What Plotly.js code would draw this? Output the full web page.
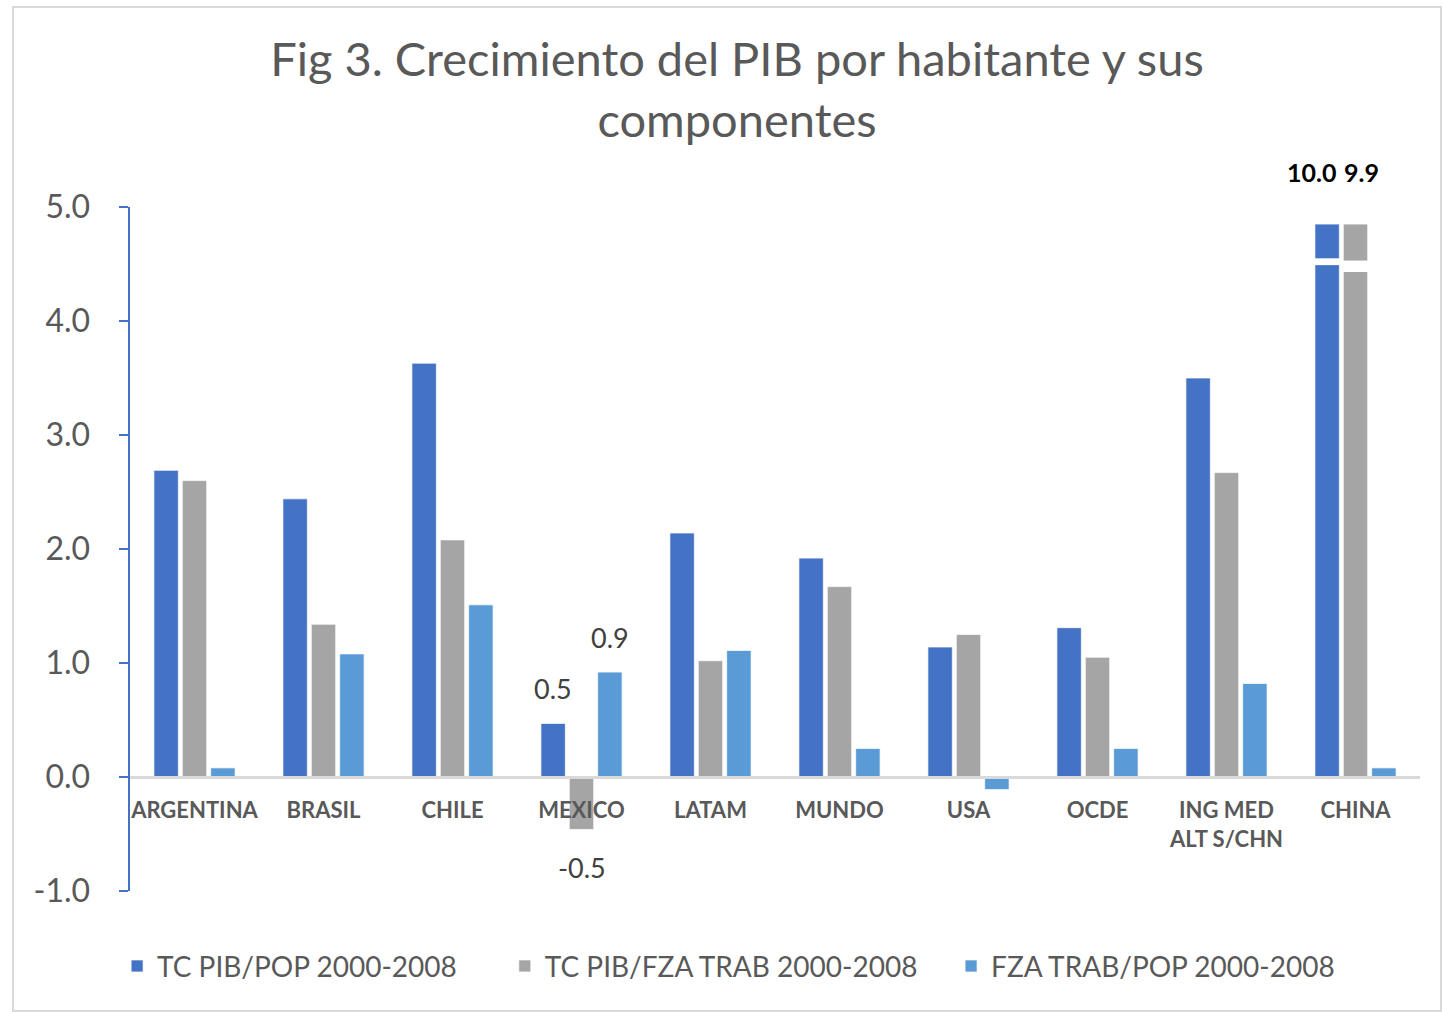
<!DOCTYPE html>
<html>
<head>
<meta charset="utf-8">
<script src="https://cdn.plot.ly/plotly-3.0.1.min.js"></script>
<style>
  body { margin: 0; background: #fff; }
  #chart { position: absolute; left: 12px; top: 6px; width: 1426px; height: 1002px; border: 2px solid #D9D9D9; }
</style>
</head>
<body>
<div id="chart"></div>
<script>
// Categories and the three series (growth rates, %)
const categories = ['ARGENTINA', 'BRASIL', 'CHILE', 'MEXICO', 'LATAM', 'MUNDO', 'USA', 'OCDE', 'ING MED<br>ALT S/CHN', 'CHINA'];
const pibPop = [2.69, 2.44, 3.63, 0.47, 2.14, 1.92, 1.14, 1.31, 3.50, 10.0];
const pibFza = [2.60, 1.34, 2.08, -0.46, 1.02, 1.67, 1.25, 1.05, 2.67, 9.9];
const fzaPop = [0.08, 1.08, 1.51, 0.92, 1.11, 0.25, -0.11, 0.25, 0.82, 0.08];

const seriesNames = ['TC PIB/POP 2000-2008', 'TC PIB/FZA TRAB 2000-2008', 'FZA TRAB/POP 2000-2008'];
const yTickVals = [-1, 0, 1, 2, 3, 4, 5];
const yTickText = ['-1.0', '0.0', '1.0', '2.0', '3.0', '4.0', '5.0'];

// Only this category carries data labels in the original
const labelledCategory = 'MEXICO';

const colors = ['#4472C4', '#A5A5A5', '#5B9BD5'];
const font = 'Lato, "Open Sans", sans-serif';
const axisMax = 5;
const capTop = 4.85;      // where truncated bars are drawn to
const bargap = 0.34;
const bargroupgap = 0.14;
const slot = (1 - bargap) / 3;
const legendPads = [6, 4, 0]; // extra room between legend entries

const series = [pibPop, pibFza, fzaPop];

// bars above the axis are capped and drawn with a break
const traces = series.map((vals, i) => ({
  type: 'bar',
  name: seriesNames[i] + '\u00a0'.repeat(legendPads[i]),
  x: categories,
  y: vals.map(v => v > axisMax ? capTop : v),
  marker: { color: colors[i], line: { color: 'rgba(255,255,255,0.7)', width: 1 } },
  hoverinfo: 'skip'
}));

const annotations = [];
const shapes = [];
const breakBands = [[4.49, 4.55], [4.43, 4.53], [4.49, 4.55]];

series.forEach((vals, i) => {
  vals.forEach((v, j) => {
    const cx = j + (i - 1) * slot;
    if (v > axisMax) {
      // value label above the chart for truncated bars
      annotations.push({
        x: cx, y: 1, xref: 'x', yref: 'paper', yanchor: 'bottom', yshift: 18,
        xshift: i === 0 ? -16 : 6,
        text: '<b>' + v.toFixed(1) + '</b>', showarrow: false,
        font: { family: font, size: 25, color: '#000' }
      });
      shapes.push({
        type: 'rect', xref: 'x', yref: 'y',
        x0: cx - slot / 2, x1: cx + slot / 2,
        y0: breakBands[i][0], y1: breakBands[i][1],
        fillcolor: '#fff', line: { width: 0 }, layer: 'above'
      });
    }
    if (categories[j] === labelledCategory) {
      annotations.push({
        x: cx, y: v, xref: 'x', yref: 'y',
        yanchor: v >= 0 ? 'bottom' : 'top', yshift: v >= 0 ? 16 : -20,
        text: v.toFixed(1), showarrow: false,
        font: { family: font, size: 27, color: '#404040' }
      });
    }
  });
});

const layout = {
  width: 1426, height: 1002,
  paper_bgcolor: '#fff', plot_bgcolor: '#fff',
  margin: { l: 116, r: 20, t: 199, b: 119 },
  barmode: 'group', bargap: bargap, bargroupgap: bargroupgap,
  title: {
    text: 'Fig 3. Crecimiento del PIB por habitante y sus<br>componentes',
    font: { family: font, size: 47, color: '#595959' },
    xref: 'container', x: 0.507, xanchor: 'center',
    yref: 'container', y: 0.932, yanchor: 'top'
  },
  xaxis: {
    type: 'category',
    anchor: 'free', position: 1 / 6,
    showline: true, linecolor: '#D9D9D9', linewidth: 3,
    ticks: '', showgrid: false, zeroline: false,
    ticklabelstandoff: 13,
    tickfont: { family: font, size: 22, color: '#595959', weight: 'bold' }
  },
  yaxis: {
    range: [-1, 5],
    tickvals: yTickVals, ticktext: yTickText,
    showline: true, linecolor: '#4472C4', linewidth: 2.5,
    ticks: 'outside', ticklen: 9, tickcolor: '#4472C4', tickwidth: 2.5,
    showgrid: false, zeroline: false,
    ticklabelstandoff: 22,
    tickfont: { family: font, size: 32, color: '#595959' }
  },
  legend: {
    orientation: 'h', x: -0.01, xanchor: 'left', y: -0.11, yanchor: 'middle',
    font: { family: font, size: 28, color: '#595959' },
    traceorder: 'normal'
  },
  showlegend: true,
  annotations: annotations,
  shapes: shapes
};

Plotly.newPlot('chart', traces, layout, { displayModeBar: false, staticPlot: true });
</script>
</body>
</html>
